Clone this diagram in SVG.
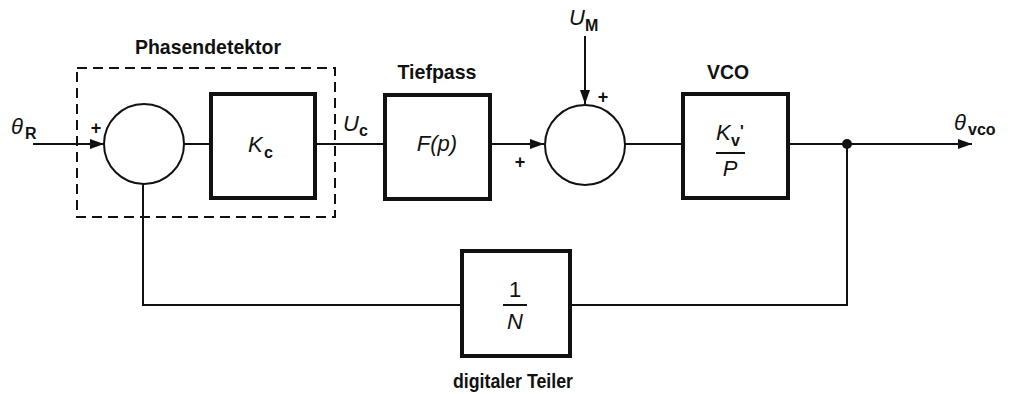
<svg xmlns="http://www.w3.org/2000/svg" width="1014" height="394" viewBox="0 0 1014 394">
<defs>
<style>
.box{fill:none;stroke:#111;stroke-width:4}
.sum{fill:#fff;stroke:#111;stroke-width:2}
.ln{fill:none;stroke:#111;stroke-width:2}
.dash{fill:none;stroke:#111;stroke-width:2;stroke-dasharray:10 6}
.lbl{font-family:"Liberation Sans",Arial,sans-serif;font-weight:bold;font-size:21px;fill:#111}
.var{font-family:"Liberation Sans",Arial,sans-serif;font-style:italic;font-size:22px;fill:#111}
.num{font-family:"Liberation Sans",Arial,sans-serif;font-size:22px;fill:#111}
.sub{font-family:"Liberation Sans",Arial,sans-serif;font-weight:bold;font-size:16px;fill:#111}
.sign{font-family:"Liberation Sans",Arial,sans-serif;font-weight:bold;font-size:18px;fill:#111}
</style>
<marker id="arr" viewBox="0 0 14 10" refX="14" refY="5" markerWidth="14" markerHeight="10" markerUnits="userSpaceOnUse" orient="auto">
<path d="M0,0 L14,5 L0,10 Z" fill="#111"/>
</marker>
</defs>
<rect width="1014" height="394" fill="#fff"/>

<g id="connectors">
<line class="ln" x1="33" y1="144" x2="104" y2="144" marker-end="url(#arr)"/>
<line class="ln" x1="184" y1="144" x2="211" y2="144"/>
<line class="ln" x1="315" y1="144" x2="385" y2="144"/>
<line class="ln" x1="490" y1="144" x2="544" y2="144" marker-end="url(#arr)"/>
<line class="ln" x1="585" y1="36" x2="585" y2="104" marker-end="url(#arr)"/>
<line class="ln" x1="625" y1="144" x2="683" y2="144"/>
<line class="ln" x1="788" y1="144" x2="972" y2="144" marker-end="url(#arr)"/>
<polyline class="ln" points="847,144 847,305 570,305"/>
<polyline class="ln" points="462,305 143,305 143,184"/>
<circle cx="847" cy="144" r="5" fill="#111"/>
</g>

<g id="phasendetektor">
<rect class="dash" x="77" y="68" width="258" height="149"/>
<text class="lbl" x="208" y="54" text-anchor="middle" textLength="146" lengthAdjust="spacingAndGlyphs">Phasendetektor</text>
</g>

<g id="sum1">
<circle class="sum" cx="144" cy="144" r="40"/>
<text class="sign" x="96" y="134" text-anchor="middle">+</text>
</g>

<g id="theta-r">
<text class="var" x="11" y="134">θ</text><text class="sub" x="25" y="139">R</text>
</g>

<g id="kc">
<rect class="box" x="211" y="94" width="104" height="104"/>
<text class="var" x="248" y="152">K</text><text class="sub" x="264" y="158">c</text>
</g>

<g id="uc">
<text class="var" x="343" y="131">U</text><text class="sub" x="359" y="136">c</text>
</g>

<g id="tiefpass">
<rect class="box" x="385" y="95" width="105" height="104"/>
<text class="lbl" x="437" y="79" text-anchor="middle" textLength="79" lengthAdjust="spacingAndGlyphs">Tiefpass</text>
<text class="var" x="437" y="151" text-anchor="middle">F(p)</text>
</g>

<g id="sum2">
<circle class="sum" cx="585" cy="145" r="40"/>
<text class="sign" x="520" y="168" text-anchor="middle">+</text>
<text class="sign" x="603" y="103" text-anchor="middle">+</text>
</g>

<g id="um">
<text class="var" x="569" y="25">U</text><text class="sub" x="585" y="31">M</text>
</g>

<g id="vco">
<rect class="box" x="683" y="94" width="105" height="104"/>
<text class="lbl" x="728" y="79" text-anchor="middle" textLength="42" lengthAdjust="spacingAndGlyphs">VCO</text>
<text class="var" x="716" y="140">K</text><text class="sub" x="731" y="146">v</text><text class="sub" x="740" y="137">'</text>
<line class="ln" x1="716" y1="153" x2="745" y2="153"/>
<text class="var" x="730" y="176" text-anchor="middle">P</text>
</g>

<g id="theta-vco">
<text class="var" x="954" y="130">θ</text><text class="sub" x="968" y="135">vco</text>
</g>

<g id="teiler">
<rect class="box" x="462" y="251" width="108" height="105"/>
<text class="num" x="515" y="297" text-anchor="middle">1</text>
<line class="ln" x1="503" y1="305" x2="527" y2="305"/>
<text class="var" x="515" y="329" text-anchor="middle">N</text>
<text class="lbl" x="513" y="388" text-anchor="middle" textLength="120" lengthAdjust="spacingAndGlyphs">digitaler Teiler</text>
</g>
</svg>
